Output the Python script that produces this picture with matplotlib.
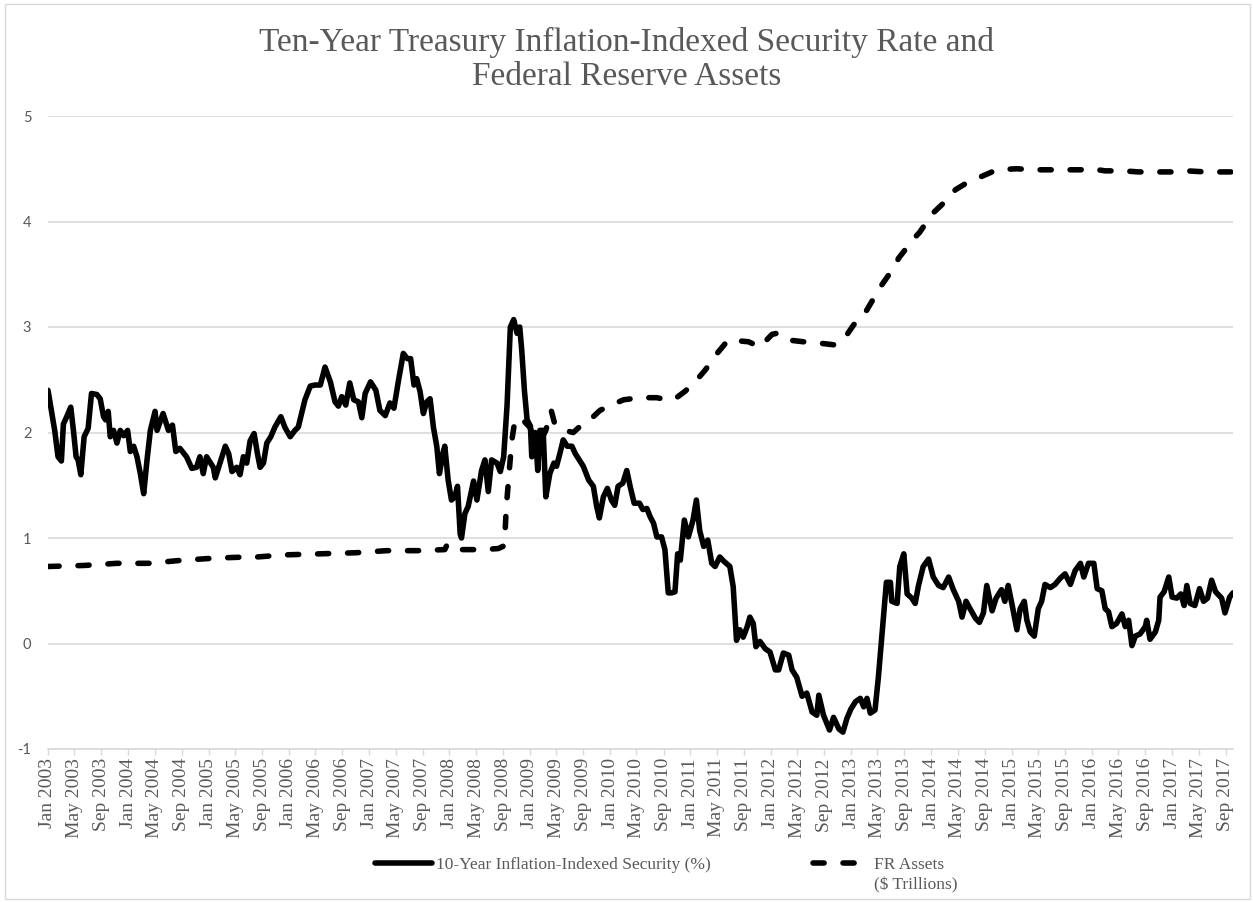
import numpy as np
import pandas as pd
import matplotlib
matplotlib.use('Agg')
import matplotlib.pyplot as plt
import matplotlib.dates as mdates
from matplotlib.patches import Rectangle

plt.rcParams['axes.unicode_minus'] = False

# x values: months after 1 Jan 2003
rate_month = [0.0, 0.5, 1.0, 1.5, 2.0, 2.3, 2.8, 3.4, 3.8, 4.2, 4.5, 4.9, 5.4, 6.0, 6.5,
              7.3, 7.8, 8.3, 8.6, 9.0, 9.3, 9.8, 10.3, 10.8, 11.3, 11.9, 12.3, 12.8,
              13.3, 13.8, 14.3, 14.8, 15.3, 16.0, 16.3, 17.2, 18.0, 18.6, 19.1, 19.7,
              20.7, 21.5, 22.2, 22.7, 23.2, 23.7, 24.7, 25.0, 25.7, 26.5, 27.0, 27.5,
              28.2, 28.7, 29.2, 29.7, 30.2, 30.8, 31.3, 31.7, 32.2, 32.7, 33.3, 33.9,
              34.8, 35.4, 36.2, 36.9, 37.4, 37.9, 38.4, 39.2, 39.9, 40.7, 41.4, 42.2,
              42.9, 43.4, 43.9, 44.5, 45.1, 45.7, 46.4, 46.9, 47.4, 48.2, 49.0, 49.6,
              50.4, 51.1, 51.7, 52.4, 53.1, 53.7, 54.2, 54.7, 55.1, 55.6, 56.1, 56.6,
              57.1, 57.6, 58.1, 58.5, 59.0, 59.3, 59.8, 60.3, 60.8, 61.2, 61.6, 61.8,
              62.3, 62.8, 63.6, 64.1, 64.8, 65.3, 65.8, 66.3, 67.1, 67.6, 68.1, 68.6,
              69.1, 69.6, 70.1, 70.5, 70.8, 71.2, 71.6, 72.1, 72.3, 72.8, 73.2, 73.5,
              74.0, 74.4, 75.0, 75.6, 76.0, 76.5, 77.0, 77.6, 78.3, 78.8, 79.4, 80.0,
              80.8, 81.5, 82.0, 82.4, 83.0, 83.6, 84.2, 84.7, 85.2, 85.9, 86.5, 87.0,
              87.6, 88.4, 88.9, 89.5, 90.0, 90.5, 91.0, 91.7, 92.2, 92.7, 93.2, 93.7,
              94.1, 94.5, 95.1, 95.7, 96.4, 96.9, 97.4, 98.0, 98.6, 99.2, 99.7, 100.4,
              101.0, 101.9, 102.4, 102.9, 103.4, 103.9, 104.5, 104.9, 105.4, 105.8,
              106.4, 107.2, 107.9, 108.7, 109.2, 109.9, 110.7, 111.2, 111.9, 112.7,
              113.4, 114.2, 114.9, 115.2, 115.9, 116.8, 117.4, 118.2, 118.8, 119.4,
              120.0, 120.7, 121.4, 121.9, 122.4, 122.9, 123.6, 124.1, 124.6, 125.3,
              125.9, 126.1, 126.9, 127.3, 127.9, 128.4, 129.1, 129.6, 130.1, 130.8,
              131.6, 132.3, 133.1, 133.8, 134.6, 135.3, 136.1, 136.6, 137.2, 137.8,
              138.6, 139.2, 139.8, 140.3, 141.1, 141.7, 142.5, 143.0, 143.5, 144.2,
              144.8, 145.3, 145.9, 146.3, 146.8, 147.4, 148.0, 148.5, 149.0, 149.8,
              150.5, 151.3, 152.0, 152.8, 153.5, 154.3, 154.8, 155.5, 156.3, 156.8,
              157.5, 158.0, 158.5, 159.0, 159.7, 160.5, 161.0, 161.5, 162.0, 162.5,
              163.2, 164.0, 164.2, 164.7, 165.5, 166.0, 166.2, 166.8, 167.5, 168.0,
              168.7, 169.3, 169.8, 170.2, 170.7, 171.4, 172.1, 172.7, 173.3, 173.9,
              174.5, 175.4, 175.9, 176.6, 177.1]
rate_pct = [2.40, 2.21, 2.02, 1.77, 1.73, 2.08, 2.15, 2.24, 2.02, 1.77, 1.74, 1.60, 1.96,
            2.04, 2.37, 2.36, 2.32, 2.15, 2.12, 2.20, 1.96, 2.02, 1.90, 2.02, 1.97, 2.02,
            1.82, 1.87, 1.77, 1.61, 1.42, 1.74, 2.02, 2.20, 2.02, 2.18, 2.02, 2.07, 1.82,
            1.85, 1.77, 1.66, 1.67, 1.77, 1.61, 1.77, 1.67, 1.57, 1.71, 1.87, 1.80, 1.63,
            1.67, 1.60, 1.77, 1.71, 1.92, 1.99, 1.80, 1.67, 1.71, 1.90, 1.96, 2.05, 2.15,
            2.05, 1.96, 2.02, 2.05, 2.18, 2.31, 2.44, 2.45, 2.45, 2.62, 2.48, 2.29, 2.25,
            2.34, 2.26, 2.47, 2.31, 2.29, 2.14, 2.37, 2.48, 2.40, 2.21, 2.16, 2.28, 2.23,
            2.50, 2.75, 2.70, 2.70, 2.45, 2.51, 2.39, 2.18, 2.29, 2.32, 2.05, 1.87, 1.61,
            1.80, 1.87, 1.55, 1.36, 1.39, 1.49, 1.04, 1.00, 1.23, 1.30, 1.54, 1.36, 1.64,
            1.74, 1.44, 1.74, 1.71, 1.63, 1.77, 2.25, 3.00, 3.07, 2.94, 3.00, 2.78, 2.40,
            2.12, 2.06, 1.77, 2.00, 1.64, 2.02, 2.02, 1.39, 1.61, 1.71, 1.68, 1.80, 1.93,
            1.87, 1.87, 1.80, 1.74, 1.68, 1.55, 1.49, 1.30, 1.19, 1.39, 1.47, 1.36, 1.31,
            1.49, 1.52, 1.64, 1.49, 1.33, 1.33, 1.27, 1.28, 1.20, 1.14, 1.01, 1.01, 0.89,
            0.48, 0.48, 0.49, 0.85, 0.79, 1.17, 1.01, 1.17, 1.36, 1.07, 0.92, 0.98, 0.76,
            0.73, 0.82, 0.78, 0.73, 0.54, 0.03, 0.13, 0.06, 0.16, 0.25, 0.19, -0.03, 0.02,
            -0.05, -0.08, -0.25, -0.25, -0.09, -0.11, -0.25, -0.32, -0.50, -0.47, -0.65,
            -0.68, -0.49, -0.68, -0.82, -0.70, -0.81, -0.84, -0.71, -0.62, -0.55, -0.52,
            -0.60, -0.52, -0.66, -0.63, -0.32, 0.05, 0.58, 0.58, 0.40, 0.38, 0.73, 0.85,
            0.47, 0.43, 0.38, 0.55, 0.73, 0.80, 0.63, 0.55, 0.53, 0.63, 0.51, 0.40, 0.25,
            0.40, 0.33, 0.24, 0.20, 0.29, 0.55, 0.31, 0.43, 0.51, 0.40, 0.55, 0.33, 0.13,
            0.33, 0.40, 0.22, 0.11, 0.07, 0.33, 0.40, 0.56, 0.53, 0.56, 0.62, 0.66, 0.56,
            0.69, 0.76, 0.63, 0.76, 0.76, 0.52, 0.50, 0.33, 0.30, 0.16, 0.19, 0.28, 0.16,
            0.22, -0.02, 0.07, 0.09, 0.16, 0.22, 0.04, 0.11, 0.22, 0.44, 0.49, 0.63, 0.44,
            0.43, 0.47, 0.36, 0.55, 0.38, 0.36, 0.52, 0.40, 0.43, 0.60, 0.49, 0.43, 0.29,
            0.44, 0.48]

fr_month = [0.0, 5.5, 10.3, 15.0, 20.2, 25.2, 29.7, 31.2, 35.4, 40.7, 45.9, 50.6, 55.3,
            59.3, 59.6, 60.0, 62.0, 65.0, 67.3, 68.0, 68.3, 68.5, 68.7, 68.9, 69.1, 69.4,
            69.8, 70.5, 71.25, 72.0, 72.8, 73.6, 74.4, 75.2, 75.7, 76.5, 77.2, 78.5, 79.2,
            80.2, 81.5, 82.5, 84.2, 86.0, 88.5, 91.0, 92.5, 93.5, 95.2, 96.7, 98.2, 100.0,
            101.7, 103.0, 104.7, 106.4, 108.2, 108.9, 110.2, 112.9, 114.9, 117.6, 118.9,
            120.4, 121.9, 123.2, 124.4, 126.6, 127.1, 129.3, 130.3, 132.1, 133.6, 135.6,
            137.4, 140.0, 141.8, 144.8, 147.4, 149.3, 151.8, 154.3, 155.8, 158.0, 160.7,
            163.0, 165.2, 168.0, 170.2, 173.0, 176.4, 177.1]
fr_trn = [0.73, 0.74, 0.76, 0.76, 0.79, 0.81, 0.82, 0.82, 0.84, 0.85, 0.86, 0.88, 0.88,
          0.89, 0.93, 0.89, 0.89, 0.89, 0.90, 0.92, 1.04, 1.30, 1.45, 1.61, 1.76, 1.96,
          2.12, 2.14, 2.10, 2.05, 1.93, 1.92, 2.02, 2.21, 2.09, 2.07, 2.02, 2.00, 2.04,
          2.10, 2.15, 2.21, 2.26, 2.31, 2.33, 2.33, 2.31, 2.31, 2.39, 2.48, 2.59, 2.75,
          2.88, 2.87, 2.86, 2.81, 2.93, 2.94, 2.88, 2.86, 2.85, 2.83, 2.88, 3.02, 3.11,
          3.25, 3.38, 3.58, 3.65, 3.83, 3.90, 4.07, 4.16, 4.30, 4.37, 4.44, 4.49, 4.50,
          4.49, 4.49, 4.49, 4.49, 4.50, 4.48, 4.48, 4.47, 4.47, 4.47, 4.48, 4.47, 4.47,
          4.47]

title = 'Ten-Year Treasury Inflation-Indexed Security Rate and\nFederal Reserve Assets'
rate_label = '10-Year Inflation-Indexed Security (%)'
fr_label = 'FR Assets'
fr_label2 = '($ Trillions)'
y_ticks = [-1, 0, 1, 2, 3, 4, 5]

grey_txt = '#595959'
grey_line = '#d9d9d9'
serif = 'Liberation Serif'


def to_dates(months):
    return pd.Timestamp('2003-01-01') + pd.to_timedelta(np.asarray(months) * 30.4375, unit='D')


W, H = 1253, 902
fig = plt.figure(figsize=(W / 100, H / 100), dpi=100)
ax = fig.add_axes([48 / W, 1 - 749 / H, (1233 - 48) / W, (749 - 116) / H])

l1, = ax.plot(to_dates(rate_month), rate_pct, color='black', lw=4.0,
              solid_joinstyle='round', solid_capstyle='round', zorder=3)
l2, = ax.plot(to_dates(fr_month), fr_trn, color='black', lw=4.0,
              linestyle=(0, (2.0, 3.4)), dash_capstyle='round',
              dash_joinstyle='round', zorder=2)

ax.set_ylim(-1, 5)
ax.set_yticks(y_ticks)
ax.set_xlim(pd.Timestamp('2003-01-01'), to_dates([177.1])[0])
ax.xaxis.set_major_locator(mdates.MonthLocator(bymonth=[1, 5, 9]))
ax.xaxis.set_major_formatter(mdates.DateFormatter('%b %Y'))

ax.grid(axis='y', color=grey_line, lw=1.2)
ax.set_axisbelow(True)
for s in ['top', 'right', 'left']:
    ax.spines[s].set_visible(False)
ax.spines['bottom'].set_color(grey_line)
ax.spines['bottom'].set_linewidth(1.2)

ax.tick_params(axis='x', length=4, color=grey_line, width=1, pad=2.5,
               labelsize=14, labelcolor=grey_txt, labelrotation=90)
ax.tick_params(axis='y', length=0, pad=12, labelsize=10.5, labelcolor=grey_txt)
for lab in ax.get_xticklabels():
    lab.set_family(serif)
for lab in ax.get_yticklabels():
    lab.set_family('Lato')

fig.text(0.5, 1 - 59 / H, title, ha='center', va='center', family=serif,
         fontsize=24, color=grey_txt, linespacing=1.15)

leg = fig.legend([l1, l2], [rate_label, fr_label], loc='center left',
                 bbox_to_anchor=(375 / W, 1 - 865 / H), ncol=2, frameon=False,
                 prop={'family': serif, 'size': 12.5}, labelcolor=grey_txt,
                 handlelength=3.3, handletextpad=0.2, columnspacing=5.9,
                 borderpad=0, borderaxespad=0)

# second line of the FR label, under "FR Assets"
fig.canvas.draw()
bb = leg.get_texts()[1].get_window_extent()
fig.text(bb.x0 / W, ((bb.y0 + bb.y1) / 2 - 20) / H, fr_label2, ha='left', va='center',
         family=serif, fontsize=12.5, color=grey_txt)

# chart area border
fig.patches.append(Rectangle((5 / W, 3 / H), (1250 - 5) / W, (898 - 3) / H,
                             transform=fig.transFigure, fill=False,
                             edgecolor=grey_line, lw=1))

fig.savefig('out.png', dpi=100)
